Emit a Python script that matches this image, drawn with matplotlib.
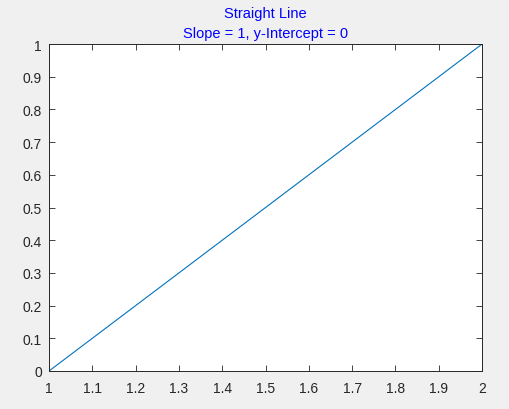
import numpy as np
import matplotlib
matplotlib.use('Agg')
import matplotlib.pyplot as plt

# data
x_vals = [1, 2]
y_vals = [0, 1]
x_ticks = np.round(np.arange(1, 2.01, 0.1), 1)
y_ticks = np.round(np.arange(0, 1.01, 0.1), 1)

plt.rcParams['font.family'] = ['Liberation Sans', 'DejaVu Sans']

fig = plt.figure(figsize=(5.09, 4.10), dpi=100, facecolor='#f0f0f0')
ax = fig.add_axes((0.0963, 0.0927, 0.8507, 0.7973))
ax.plot(x_vals, y_vals, color='#0072BD', linewidth=0.8)

ax.set_xlim(1, 2)
ax.set_ylim(0, 1)
ax.set_xticks(x_ticks)
ax.set_yticks(y_ticks)
ax.set_xticklabels(['%g' % t for t in x_ticks])
ax.set_yticklabels(['%g' % t for t in y_ticks])
ax.tick_params(direction='in', top=True, right=True, length=4, width=0.6,
               colors='#262626', labelsize=10)
ax.tick_params(axis='x', pad=7)
ax.tick_params(axis='y', pad=5)
for s in ax.spines.values():
    s.set_color('#262626')
    s.set_linewidth(0.7)

ax.set_title('Straight Line\nSlope = 1, y-Intercept = 0', color='#0000ff',
             fontsize=10.5, pad=5, linespacing=1.6)

fig.savefig('out.png', dpi=100, facecolor=fig.get_facecolor())
